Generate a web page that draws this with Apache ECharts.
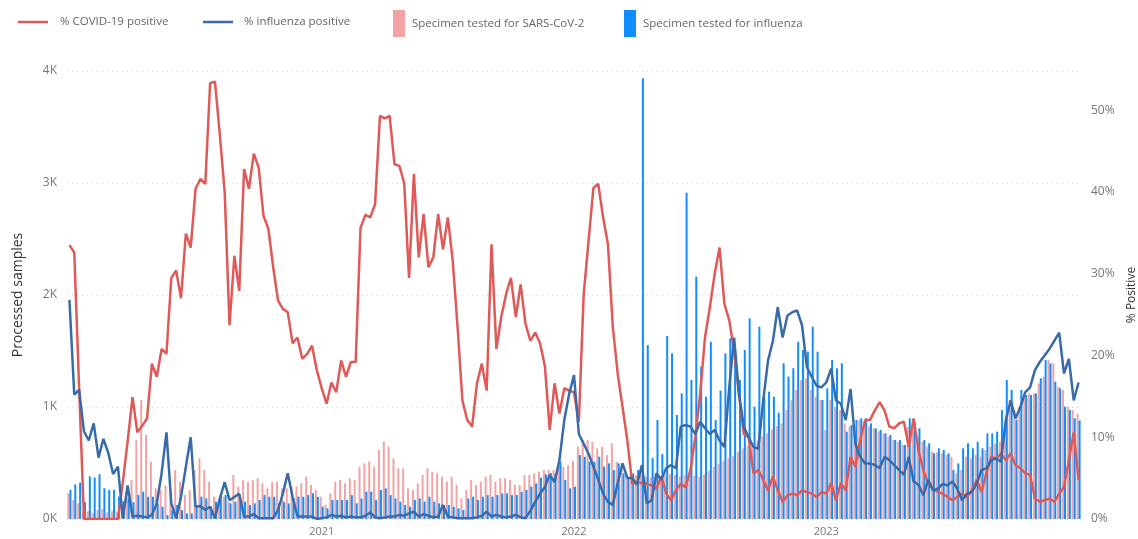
<!DOCTYPE html>
<html lang="en">
<head>
<meta charset="UTF-8">
<title>COVID-19 and influenza testing</title>
<script src="https://cdn.jsdelivr.net/npm/echarts@6/dist/echarts.min.js"></script>
<style>
    html, body { margin: 0; padding: 0; background: #fff; }
    #chart { width: 1138px; height: 539px; }
</style>
</head>
<body>
<div id="chart"></div>
<script>
// weekly figures, first week starting Monday 6 Jan 2020
var firstWeek = '2020-01-06';
var yearLabels = ['2021', '2022', '2023'];

// % positive (right axis)
var covidPositive = [
    33.5, 32.6, 16, 0, 0, 0, 0, 0, 0, 0, 0, 4.5, 9.5, 14.9, 10.6, 11.4, 12.3, 19, 17.4, 20.8,
    20.2, 29.5, 30.4, 27, 34.9, 33.2, 40.4, 41.6, 41, 53.3, 53.5, 47, 40, 23.7, 32.2, 27.9, 42.8, 40.4, 44.7, 43,
    37.1, 35.5, 30.8, 26.7, 25.7, 25.3, 21.5, 22.2, 19.6, 20.2, 21.2, 18.2, 16, 14.1, 16.7, 15.5, 19.4, 17.4, 19.2, 19.2,
    35.6, 37.2, 36.9, 38.5, 49.3, 49, 49.3, 43.4, 43.2, 41.1, 29.5, 42.2, 32, 37.3, 30.8, 32, 37.3, 33, 36.9, 31.6,
    23.5, 14.5, 12.1, 11.3, 16.6, 19, 15.7, 33.6, 20.8, 24.7, 27.5, 29.5, 24.7, 28.7, 23.9, 21.8, 22.8, 21.5, 18.7, 10.9,
    16.6, 12.9, 16, 15.7, 15.5, 11.9, 27.5, 34, 40.5, 41, 36.9, 33.6, 23.5, 17.8, 13.7, 9.6, 4.3, 4.5, 4.4, 4.3,
    4.1, 3.7, 5.2, 3.1, 2.3, 3.5, 4.3, 3.9, 6, 10, 15.3, 22.2, 25.9, 30, 33.2, 26.3, 24.3, 20.6, 15.3, 10.4,
    10, 5.6, 6, 4.8, 3.5, 5.2, 3.5, 2.1, 2.9, 3.1, 2.9, 3.5, 3.3, 3.1, 2.7, 3.3, 3.1, 4.4, 2.3, 4.4,
    3.5, 7.6, 6.4, 9.6, 12.1, 12.1, 13.3, 14.3, 13.3, 11.3, 11.1, 11.7, 11.9, 8.8, 12.3, 8.4, 6, 4.3, 3.7, 3.3,
    3.1, 2.7, 2.3, 2.7, 3.1, 2.7, 3.5, 4.8, 3.3, 5.6, 7.6, 7.4, 8, 7.2, 8, 6.6, 6.2, 5.6, 5.4, 2.5,
    2.1, 2.3, 2.5, 2.1, 3.1, 3.9, 7.2, 10.6, 4.8
];
var fluPositive = [
    26.8, 15.2, 15.8, 10.7, 9.6, 11.7, 7.5, 9.8, 8.1, 5.5, 6.4, 0.1, 4.1, 0.3, 0.4, 0.3, 0.2, 0.5, 1.9, 5.6,
    10.6, 1.9, 0.1, 2.7, 6.4, 10, 1.5, 1.6, 1.1, 1.5, 0.1, 2.5, 4.5, 2.3, 2.7, 3.1, 0.3, 0.3, 0.6, 0.1,
    0.1, 0.1, 0.1, 1.1, 3.1, 5.6, 2.7, 0.3, 0.3, 0.3, 0.3, 0, 0.1, 0.2, 0.5, 0.3, 0.4, 0.2, 0.3, 0.2,
    0.2, 0.4, 0.8, 0.2, 0.1, 0.2, 0.3, 0.3, 0.5, 0.4, 0.7, 0.9, 0.3, 0.6, 0.4, 0.2, 0.3, 1.7, 0.3, 0.2,
    0.1, 0.1, 0.1, 0.1, 0.2, 0.4, 0.9, 0.3, 0.5, 0.3, 0.2, 0.3, 0.5, 0.2, 0.1, 1, 2.1, 3.1, 3.9, 5.4,
    4.5, 7.2, 12.1, 15.3, 17.6, 10.4, 9.2, 8, 6.4, 4.8, 3.1, 2.1, 1.7, 4.4, 6.8, 5, 5, 4.2, 6.6, 1.9,
    2.3, 5.6, 4.8, 6.2, 6.6, 6.2, 11.3, 11.5, 11.3, 10.4, 11.9, 11.1, 10.4, 10.9, 9.6, 8.8, 16.1, 22.2, 15.3, 11.3,
    10, 8.8, 8.6, 14.5, 19.4, 21.8, 25.9, 22.2, 24.9, 25.3, 25.5, 23.7, 18.6, 17.4, 16.3, 16.1, 16.7, 18.4, 14.5, 14.1,
    12.1, 15.9, 9.2, 7.6, 6.8, 6.8, 6.6, 6.2, 7.6, 7.2, 6.6, 6, 5.4, 7.6, 4.6, 4.2, 2.9, 4.8, 3.5, 3.7,
    4.3, 4.1, 4.6, 3.7, 2.3, 3.1, 3.3, 4.3, 6, 6.2, 7.2, 7.4, 7, 12.1, 14.5, 12.3, 13.7, 15.5, 16.1, 18.2,
    19.2, 20, 20.8, 21.8, 22.8, 17.8, 19.6, 14.5, 16.7
];

// processed samples (left axis)
var testedSars = [
    230, 170, 140, 60, 70, 50, 80, 90, 60, 70, 60, 120, 229, 348, 705, 1063, 750, 512, 274, 259,
    300, 244, 437, 333, 214, 259, 437, 542, 437, 333, 199, 140, 199, 155, 393, 289, 348, 333, 348, 363,
    318, 274, 333, 333, 274, 274, 289, 289, 318, 378, 304, 259, 199, 125, 229, 333, 348, 318, 363, 348,
    467, 497, 512, 467, 616, 690, 645, 542, 452, 452, 274, 259, 318, 393, 452, 422, 408, 378, 333, 378,
    304, 184, 259, 348, 304, 333, 378, 393, 333, 363, 363, 348, 304, 304, 393, 393, 408, 422, 437, 437,
    437, 467, 467, 480, 520, 646, 705, 705, 690, 631, 646, 571, 675, 512, 437, 408, 422, 390, 400, 380,
    370, 395, 380, 385, 400, 395, 380, 390, 400, 385, 378, 400, 430, 467, 490, 520, 542, 560, 601, 630,
    650, 675, 700, 740, 765, 800, 830, 854, 973, 1060, 1152, 1241, 1256, 1152, 1092, 1063, 795, 1063, 1003, 973,
    854, 824, 765, 884, 854, 824, 810, 780, 765, 735, 705, 690, 661, 824, 780, 735, 690, 646, 601, 595,
    586, 571, 556, 408, 437, 556, 542, 571, 556, 616, 646, 675, 690, 824, 1063, 973, 1003, 1092, 1122, 1122,
    1211, 1271, 1420, 1390, 1181, 1152, 1003, 973, 940
];
var testedFlu = [
    260, 310, 325, 150, 380, 370, 400, 275, 260, 260, 200, 160, 180, 150, 215, 244, 199, 199, 140, 110,
    35, 80, 125, 80, 50, 50, 110, 199, 184, 110, 155, 229, 214, 140, 155, 170, 155, 125, 140, 170,
    214, 199, 199, 140, 155, 140, 184, 199, 199, 214, 229, 199, 110, 95, 170, 170, 170, 170, 214, 140,
    184, 244, 244, 170, 259, 274, 214, 184, 155, 125, 110, 170, 184, 155, 199, 155, 140, 125, 125, 110,
    95, 80, 184, 199, 170, 199, 214, 199, 214, 229, 229, 214, 214, 244, 259, 289, 318, 370, 400, 410,
    408, 512, 348, 274, 289, 571, 556, 512, 512, 556, 467, 497, 437, 497, 408, 363, 408, 437, 3935, 1553,
    544, 884, 580, 1634, 1479, 929, 1122, 2914, 1241, 2164, 1360, 1092, 1583, 884, 1146, 1479, 1613, 1509, 1241, 1509,
    1792, 1003, 1717, 1092, 1137, 1092, 948, 1390, 1271, 1346, 1583, 1509, 1494, 1717, 1494, 1063, 1167, 1420, 1345, 1390,
    780, 839, 884, 899, 899, 854, 810, 795, 765, 750, 705, 705, 661, 899, 869, 810, 705, 676, 586, 631,
    616, 586, 437, 497, 631, 676, 631, 690, 631, 765, 765, 780, 973, 1241, 1152, 884, 1152, 1107, 1107, 1122,
    1256, 1420, 1390, 1226, 1167, 1003, 973, 900, 880
];

// week start dates for the category axis
var weeks = [];
var d0 = new Date(firstWeek + 'T00:00:00Z');
for (var i = 0; i < covidPositive.length; i++) {
    var d = new Date(d0.getTime() + i * 7 * 86400000);
    weeks.push(d.toISOString().slice(0, 10));
}
function isYearStart(value) {
    return value.slice(5, 7) === '01' && +value.slice(8, 10) <= 7 &&
        yearLabels.indexOf(value.slice(0, 4)) >= 0;
}

var textFont = 'Open Sans';
var legendText = { color: '#666', fontSize: 11.5, fontFamily: textFont };

var chart = echarts.init(document.getElementById('chart'));
chart.setOption({
    animation: false,
    legend: [
        { data: ['% COVID-19 positive'], left: 13, top: 11, icon: 'rect', itemWidth: 30, itemHeight: 2.5,
          textStyle: Object.assign({ padding: [0, 0, 0, 7] }, legendText) },
        { data: ['% influenza positive'], left: 198, top: 11, icon: 'rect', itemWidth: 30, itemHeight: 2.5,
          textStyle: Object.assign({ padding: [0, 0, 0, 6] }, legendText) },
        { data: ['Specimen tested for SARS-CoV-2'], left: 388, top: 5, icon: 'rect', itemWidth: 12, itemHeight: 27,
          textStyle: Object.assign({ padding: [0, 0, 0, 2] }, legendText) },
        { data: ['Specimen tested for influenza'], left: 619, top: 5, icon: 'rect', itemWidth: 12, itemHeight: 27,
          textStyle: Object.assign({ padding: [0, 0, 0, 2] }, legendText) }
    ],
    grid: { left: 67, right: 57, top: 71, bottom: 20, containLabel: false, outerBoundsMode: 'none' },
    xAxis: {
        type: 'category',
        data: weeks,
        axisLine: { show: false },
        axisTick: { show: false },
        axisLabel: {
            interval: function (idx, value) { return isYearStart(value); },
            formatter: function (value) { return value.slice(0, 4); },
            color: '#777', fontSize: 11, fontFamily: textFont, margin: 7
        }
    },
    yAxis: [
        {
            type: 'value', min: 0, max: 4000, interval: 1000,
            name: 'Processed samples', nameLocation: 'middle', nameGap: 42,
            nameTextStyle: { color: '#333', fontSize: 14, fontFamily: textFont },
            axisLabel: { formatter: function (v) { return (v / 1000) + 'K'; }, color: '#777', fontSize: 12, fontFamily: textFont, margin: 10 },
            splitLine: { lineStyle: { color: '#d6d6d6', type: [1, 4] } }
        },
        {
            type: 'value', min: 0, max: 54.8, interval: 10, position: 'right',
            name: '% Positive', nameLocation: 'middle', nameGap: 45, nameRotate: 90,
            nameTextStyle: { color: '#333', fontSize: 12, fontFamily: textFont },
            axisLabel: { formatter: '{value}%', color: '#777', fontSize: 12, fontFamily: textFont, margin: 10, showMaxLabel: false },
            splitLine: { show: false }
        }
    ],
    series: [
        {
            name: 'Specimen tested for SARS-CoV-2', type: 'bar', yAxisIndex: 0,
            data: testedSars, barGap: '0%', barCategoryGap: '18%',
            itemStyle: { color: '#F2A3A3' }
        },
        {
            name: 'Specimen tested for influenza', type: 'bar', yAxisIndex: 0,
            data: testedFlu, barGap: '0%', barCategoryGap: '18%',
            itemStyle: { color: '#118DFF' }
        },
        {
            name: '% COVID-19 positive', type: 'line', yAxisIndex: 1,
            data: covidPositive, showSymbol: false, z: 5,
            lineStyle: { color: '#DF5A57', width: 2.5 }, itemStyle: { color: '#DF5A57' }
        },
        {
            name: '% influenza positive', type: 'line', yAxisIndex: 1,
            data: fluPositive, showSymbol: false, z: 6,
            lineStyle: { color: '#386BA8', width: 2.5 }, itemStyle: { color: '#386BA8' }
        }
    ]
});
</script>
</body>
</html>
